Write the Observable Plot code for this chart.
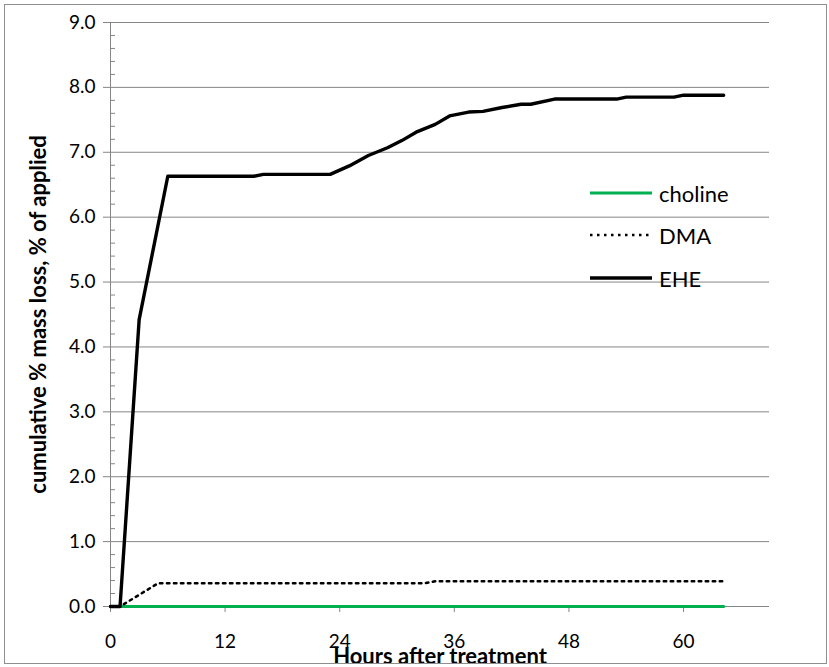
<!DOCTYPE html>
<html><head><meta charset="utf-8">
<script src="https://cdn.jsdelivr.net/npm/d3@7"></script>
<script src="https://cdn.jsdelivr.net/npm/@observablehq/plot@0.6"></script>
<style>
body{margin:0;background:#fff;}
#wrap{position:relative;width:829px;height:667px;font-family:Lato,"Open Sans",sans-serif;}
#border{position:absolute;left:4px;top:4px;width:821px;height:658px;border:1px solid #8f8f8f;pointer-events:none;}
#chart{position:absolute;left:0;top:0;}
.leg{position:absolute;left:590px;height:30px;display:flex;align-items:center;font-size:22px;color:#000;}
.leg svg{margin-right:7px;display:block;}
g[aria-label="x-axis label"] text, g[aria-label="y-axis label"] text{font-weight:bold;font-size:22px;}
g[aria-label="y-axis tick label"] text{font-size:19px;}
g[aria-label="x-axis tick label"] text{font-size:19px;}
</style></head><body>
<div id="wrap"><div id="chart"></div><div id="border"></div></div>
<script>
const seriesNames = ["choline", "DMA", "EHE"];
const cholineHours = [0, 64.2];
const cholineValues = [0, 0];
const dmaHours = [0, 1, 3, 5, 33, 34, 64.2];
const dmaValues = [0, 0, 0.18, 0.36, 0.36, 0.39, 0.39];
const eheHours = [0, 1, 3, 6, 15, 16, 23, 25, 27, 29, 30.5, 32, 34, 35.5, 37.5, 39, 41, 43, 44, 46.5, 53, 54, 59, 60, 64.2];
const eheValues = [0, 0, 4.42, 6.63, 6.63, 6.66, 6.66, 6.79, 6.95, 7.07, 7.18, 7.31, 7.43, 7.56, 7.62, 7.63, 7.69, 7.74, 7.74, 7.82, 7.82, 7.85, 7.85, 7.88, 7.88];
const xTicks = [0, 12, 24, 36, 48, 60];
const yTicks = [0, 1, 2, 3, 4, 5, 6, 7, 8, 9];
const yMinorTicks = d3.range(0, 45).map(i => i / 5).filter(v => Math.abs(v - Math.round(v)) > 1e-6);

const toRows = (hs, vs) => hs.map((h, i) => ({h, v: vs[i]}));
const choline = toRows(cholineHours, cholineValues);
const dma = toRows(dmaHours, dmaValues);
const ehe = toRows(eheHours, eheValues);

const styles = {
  choline: {stroke: "#00B050", strokeWidth: 3, dash: null},
  DMA: {stroke: "#000", strokeWidth: 2.5, dash: "2.5,4.5"},
  EHE: {stroke: "#000", strokeWidth: 3.4, dash: null}
};
const gray = "#868686";

const chart = Plot.plot({
  width: 829, height: 667,
  marginLeft: 110, marginRight: 60, marginTop: 22, marginBottom: 61,
  x: {domain: [0, 69]},
  y: {domain: [0, 9]},
  style: {fontFamily: 'Lato, "Open Sans", sans-serif', fontSize: "18px", color: "#000", background: "transparent"},
  marks: [
    Plot.gridY(yTicks, {stroke: gray, strokeOpacity: 1}),
    Plot.ruleX([0], {stroke: gray}),
    Plot.axisY(yTicks, {tickSize: 7, tickPadding: 8, stroke: gray, tickFormat: d => d.toFixed(1),
      label: "cumulative % mass loss, % of applied", labelAnchor: "center", labelArrow: "none", labelOffset: 80}),
    Plot.axisY(yMinorTicks, {tickSize: 5, dx: 5, stroke: gray, tickFormat: () => "", label: null}),
    Plot.axisX(xTicks, {tickSize: 6, tickPadding: 22, stroke: gray,
      label: "Hours after treatment", labelAnchor: "center", labelArrow: "none", labelOffset: 57}),
    Plot.line(choline, {x: "h", y: "v", stroke: styles.choline.stroke, strokeWidth: styles.choline.strokeWidth}),
    Plot.line(dma, {x: "h", y: "v", stroke: styles.DMA.stroke, strokeWidth: styles.DMA.strokeWidth, strokeDasharray: styles.DMA.dash}),
    Plot.line(ehe, {x: "h", y: "v", stroke: styles.EHE.stroke, strokeWidth: styles.EHE.strokeWidth, strokeLinejoin: "round"})
  ]
});
document.getElementById("chart").append(chart);

// legend (overlay)
const wrap = document.getElementById("wrap");
const legendTops = [178, 220, 263];
seriesNames.forEach((name, i) => {
  const s = styles[name];
  const row = document.createElement("div");
  row.className = "leg";
  row.style.top = legendTops[i] + "px";
  row.innerHTML = `<svg width="62" height="10"><line x1="0" x2="62" y1="5" y2="5" stroke="${s.stroke}" stroke-width="${s.strokeWidth}" ${s.dash ? `stroke-dasharray="${s.dash}"` : ""}/></svg><span>${name}</span>`;
  wrap.append(row);
});
</script>
</body></html>
